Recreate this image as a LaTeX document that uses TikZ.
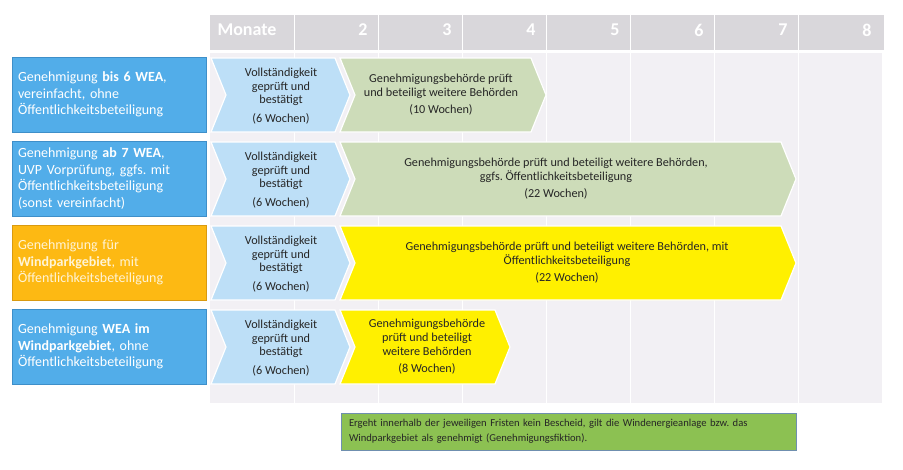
\documentclass[tikz,border=0pt]{standalone}
\usepackage{fontspec}
\setmainfont{Carlito}
\usetikzlibrary{calc}
\frenchspacing
\definecolor{kopfgrau}{HTML}{D9D7DB}
\definecolor{feldgrau}{HTML}{F2F0F4}
\definecolor{antragblau}{HTML}{52ADE9}
\definecolor{antragrand}{HTML}{3E8FC9}
\definecolor{antragorange}{HTML}{FDB913}
\definecolor{orangerand}{HTML}{D99A10}
\definecolor{orangetext}{HTML}{FFF4D6}
\definecolor{pruefblau}{HTML}{BDDFF7}
\definecolor{behgruen}{HTML}{CDDCB9}
\definecolor{behgelb}{HTML}{FFF000}
\definecolor{notizgruen}{HTML}{8CC152}
\definecolor{notizrand}{HTML}{6F8FAF}
\tikzset{
  antrag/.style={
    draw = antragrand,
    fill = antragblau,
    text = white,
    text width = 182pt,
    inner xsep = 6pt,
    minimum height = 75pt,
    align = left,
    font = \fontsize{14}{16.7}\selectfont
  },
  antragwpg/.style={
    antrag,
    draw = orangerand,
    fill = antragorange,
    text = orangetext
  },
  schritt/.style={
    align = center,
    text = black!85,
    font = \fontsize{12.2}{13.6}\selectfont
  },
  monat/.style={
    anchor = east,
    text = white,
    font = \fontsize{18}{18}\bfseries
  },
  notiz/.style={
    draw = notizrand,
    fill = notizgruen,
    text = black!85,
    minimum width = 455pt,
    minimum height = 37pt,
    text width = 439pt,
    inner xsep = 8pt,
    align = left,
    font = \fontsize{10.6}{15}\selectfont
  }
}
% chevron: from, to, top, colour
\newcommand\pfeil[4]{%
  \filldraw[draw=white, line width=1.2pt, fill=#4]
    (#1,#3) -- (#2-15,#3) -- (#2,#3+37) -- (#2-15,#3+74) -- (#1,#3+74) -- (#1+15,#3+37) -- cycle;}
\begin{document}
\begin{tikzpicture}[x=1pt, y=-1pt]
  \useasboundingbox (0,0) rectangle (903,469);
  % table
  \fill[kopfgrau] (210,15) rectangle (884,50);
  \fill[feldgrau] (210,53) rectangle (882,403);
  \foreach \k in {1,...,7}
    \draw[white, line width=1pt] (210+84*\k,15) -- (210+84*\k,403);
  \node[monat, anchor=west] (m1) at (214,30) {Monate};
  \foreach \k in {2,...,8}
    \node[monat] (m\k) at (203+84*\k,30) {\k};
  %
  \node[antrag] (g1) at (109,94.5) {Genehmigung \textbf{bis 6 WEA},\\vereinfacht, ohne\\Öffentlichkeitsbeteiligung};
  \node[antrag] (g2) at (109,178.5) {Genehmigung \textbf{ab 7 WEA},\\UVP Vorprüfung, ggfs. mit\\Öffentlichkeitsbeteiligung\\(sonst vereinfacht)};
  \node[antragwpg] (g3) at (109,262.5) {Genehmigung für\\\textbf{Windparkgebiet}, mit\\Öffentlichkeitsbeteiligung};
  \node[antrag] (g4) at (109,346.5) {Genehmigung \textbf{WEA im}\\\textbf{Windparkgebiet}, ohne\\Öffentlichkeitsbeteiligung};
  %
  \foreach \r/\top in {1/58,2/142,3/226,4/310} {
    \pfeil{211}{350}{\top}{pruefblau}
    \node[schritt] (v\r) at (281,\top+38) {Vollständigkeit\\geprüft und\\bestätigt\\[5pt](6 Wochen)};
  }
  %
  \pfeil{340}{546}{58}{behgruen}
  \node[schritt] (b1) at (441,95) {Genehmigungsbehörde prüft\\und beteiligt weitere Behörden\\[4pt](10 Wochen)};
  \pfeil{340}{796}{142}{behgruen}
  \node[schritt] (b2) at (556,179) {Genehmigungsbehörde prüft und beteiligt weitere Behörden,\\ggfs. Öffentlichkeitsbeteiligung\\[4pt](22 Wochen)};
  \pfeil{340}{796}{226}{behgelb}
  \node[schritt] (b3) at (567,263) {Genehmigungsbehörde prüft und beteiligt weitere Behörden, mit\\Öffentlichkeitsbeteiligung\\[4pt](22 Wochen)};
  \pfeil{340}{510}{310}{behgelb}
  \node[schritt] (b4) at (427,347) {Genehmigungsbehörde\\prüft und beteiligt\\weitere Behörden\\[4pt](8 Wochen)};
  %
  \node[notiz] (fiktion) at (568.5,431.5) {Ergeht innerhalb der jeweiligen Fristen kein Bescheid, gilt die Windenergieanlage bzw. das\\Windparkgebiet als genehmigt (Genehmigungsfiktion).};
\end{tikzpicture}
\end{document}
